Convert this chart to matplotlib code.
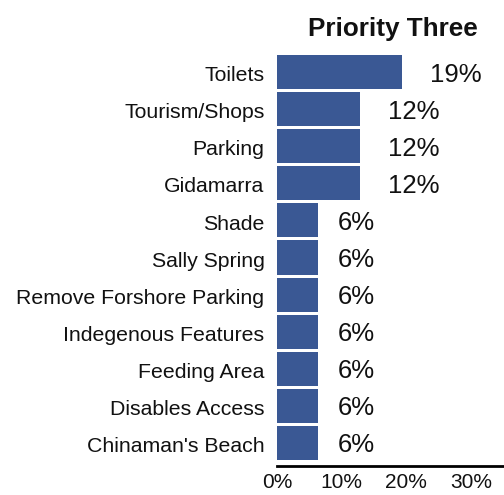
import matplotlib
matplotlib.use("Agg")
import matplotlib.pyplot as plt
from matplotlib.transforms import ScaledTranslation

categories = ["Toilets", "Tourism/Shops", "Parking", "Gidamarra", "Shade",
              "Sally Spring", "Remove Forshore Parking", "Indegenous Features",
              "Feeding Area", "Disables Access", "Chinaman's Beach"]
values = [19.3, 12.8, 12.8, 12.8, 6.4, 6.4, 6.4, 6.4, 6.4, 6.4, 6.4]
value_labels = ["19%", "12%", "12%", "12%", "6%", "6%", "6%", "6%", "6%", "6%", "6%"]
xticks = [0, 10, 20, 30]
xtick_labels = ["0%", "10%", "20%", "30%"]

plt.rcParams['font.family'] = ['Liberation Sans', 'DejaVu Sans']

fig = plt.figure(figsize=(5.04, 4.95), dpi=100)
ax = fig.add_axes([0.5496, 0.0586, 0.449, 0.8334])

y = list(range(len(categories)))
ax.barh(y, values, height=0.92, color='#3a5894', edgecolor='none')
ax.set_ylim(10.62, -0.5)
ax.set_xlim(0, 35)

for yi, v, lab in zip(y, values, value_labels):
    pad = 19 if v < 10 else 28
    ax.annotate(lab, (v, yi), xytext=(pad * 0.72, -1.8), textcoords='offset points',
                ha='left', va='center', fontsize=18.5, color='#111111')

ax.set_yticks(y)
ax.set_yticklabels(categories, fontsize=15.3, color='#111111')
ax.set_xticks(xticks)
ax.set_xticklabels(xtick_labels, fontsize=15, color='#111111')
ax.tick_params(axis='both', length=0)
ax.tick_params(axis='x', pad=5)
ax.tick_params(axis='y', pad=9)

shift = ScaledTranslation(0, -1.2 / 72, fig.dpi_scale_trans)
for t in ax.get_yticklabels():
    t.set_transform(t.get_transform() + shift)

for s in ['top', 'right', 'left']:
    ax.spines[s].set_visible(False)
ax.spines['bottom'].set_linewidth(2)
ax.spines['bottom'].set_color('black')

fig.text(0.78, 0.941, "Priority Three", ha='center', va='center',
         fontsize=18.8, fontweight='bold', color='#111111')

fig.savefig("out.png", dpi=100)
